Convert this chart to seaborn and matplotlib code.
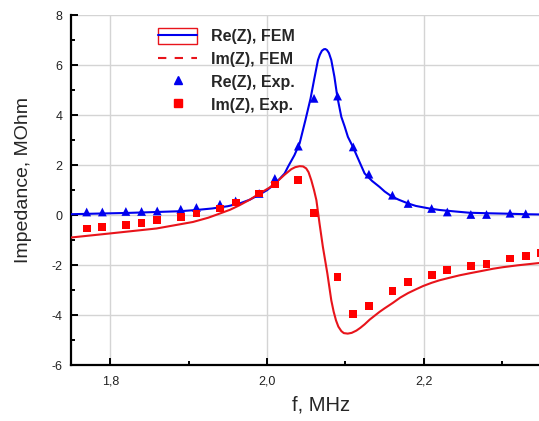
import matplotlib
matplotlib.use("Agg")
import matplotlib.pyplot as plt
import seaborn as sns
from matplotlib.lines import Line2D
from matplotlib.patches import Patch
from matplotlib.legend_handler import HandlerTuple
from matplotlib.ticker import MultipleLocator, FuncFormatter

# ---- data ----
f_exp = [1.77, 1.79, 1.82, 1.84, 1.86, 1.89, 1.91, 1.94, 1.96, 1.99, 2.01, 2.04,
         2.06, 2.09, 2.11, 2.13, 2.16, 2.18, 2.21, 2.23, 2.26, 2.28, 2.31, 2.33, 2.35]
re_exp = [0.13, 0.13, 0.15, 0.15, 0.17, 0.24, 0.31, 0.44, 0.57, 0.87, 1.47, 2.76,
          4.67, 4.76, 2.73, 1.64, 0.80, 0.47, 0.27, 0.13, 0.03, 0.03, 0.08, 0.06]
im_exp = [-0.53, -0.47, -0.40, -0.31, -0.20, -0.07, 0.07, 0.27, 0.51, 0.87, 1.23, 1.40,
          0.10, -2.47, -3.93, -3.64, -3.04, -2.67, -2.40, -2.20, -2.04, -1.96, -1.73, -1.64, -1.50]

f_re_fem = [1.750, 1.790, 1.820, 1.860, 1.889, 1.910, 1.930, 1.950, 1.965, 1.978, 1.990,
            2.000, 2.008, 2.016, 2.0225, 2.0267, 2.035, 2.0416, 2.049, 2.0556, 2.060, 2.065,
            2.0675, 2.070, 2.0725, 2.0744, 2.0765, 2.079, 2.082, 2.086, 2.0897, 2.0948,
            2.099, 2.1032, 2.1096, 2.118, 2.1245, 2.134, 2.1436, 2.150, 2.1586, 2.168,
            2.180, 2.190, 2.207, 2.220, 2.240, 2.258, 2.280, 2.309, 2.330, 2.350]
re_fem = [0.04, 0.07, 0.09, 0.13, 0.16, 0.21, 0.27, 0.36, 0.47, 0.62, 0.82,
          1.00, 1.20, 1.45, 1.67, 1.93, 2.40, 2.87, 3.80, 4.67, 5.40, 6.20,
          6.42, 6.57, 6.63, 6.64, 6.60, 6.48, 6.20, 5.53, 4.73, 3.93,
          3.55, 3.13, 2.73, 2.13, 1.67, 1.37, 1.13, 0.95, 0.76, 0.62,
          0.47, 0.37, 0.27, 0.21, 0.15, 0.10, 0.08, 0.06, 0.04, 0.03]

f_im_fem = [1.750, 1.799, 1.859, 1.9055, 1.925, 1.940, 1.953, 1.965, 1.978, 1.9906, 2.003,
            2.012, 2.0225, 2.031, 2.036, 2.0416, 2.046, 2.050, 2.053, 2.0565, 2.060, 2.063,
            2.067, 2.0713, 2.077, 2.082, 2.085, 2.088, 2.091, 2.0948, 2.098, 2.103,
            2.108, 2.114, 2.119, 2.1245, 2.131, 2.1436, 2.150, 2.1606, 2.170, 2.180,
            2.190, 2.199, 2.210, 2.220, 2.230, 2.2457, 2.260, 2.270, 2.288, 2.300,
            2.320, 2.335, 2.350]
im_fem = [-0.89, -0.73, -0.53, -0.27, -0.10, 0.07, 0.22, 0.40, 0.62, 0.87, 1.10,
          1.32, 1.62, 1.84, 1.92, 1.96, 1.95, 1.87, 1.72, 1.40, 1.00, 0.60,
          -0.33, -1.27, -2.33, -3.40, -3.85, -4.20, -4.45, -4.63, -4.71, -4.73,
          -4.70, -4.61, -4.50, -4.36, -4.17, -3.86, -3.72, -3.50, -3.29, -3.11,
          -2.96, -2.83, -2.70, -2.60, -2.52, -2.40, -2.31, -2.25, -2.14, -2.08,
          -2.00, -1.95, -1.90]

BLUE = "#0000ee"
RED = "#e8141b"
SQ_RED = "#ff0000"

sns.set_style("white")
plt.rcParams["font.family"] = ["Liberation Sans", "DejaVu Sans"]

fig = plt.figure(figsize=(5.39, 4.21), dpi=100)
ax = fig.add_axes([71 / 539, (421 - 365.4) / 421, 470.4 / 539, 350.4 / 421])

sns.lineplot(x=f_re_fem, y=re_fem, ax=ax, color=BLUE, linewidth=1.5, estimator=None, zorder=3)
sns.lineplot(x=f_im_fem, y=im_fem, ax=ax, color=RED, linewidth=1.5, estimator=None, zorder=3)
sns.scatterplot(x=f_exp[:len(re_exp)], y=re_exp, ax=ax, marker="^", s=40, color=BLUE,
                edgecolor="none", zorder=4)
sns.scatterplot(x=f_exp, y=im_exp, ax=ax, marker="s", s=32, color=SQ_RED,
                edgecolor="none", zorder=4)

ax.set_xlim(1.75, 2.35)
ax.set_ylim(-6, 8)
ax.xaxis.set_major_locator(MultipleLocator(0.2))
ax.xaxis.set_minor_locator(MultipleLocator(0.1))
ax.yaxis.set_major_locator(MultipleLocator(2))
ax.yaxis.set_minor_locator(MultipleLocator(1))
ax.xaxis.set_major_formatter(FuncFormatter(lambda v, p: f"{v:.1f}".replace(".", ",")))
ax.yaxis.set_major_formatter(FuncFormatter(lambda v, p: f"{v:.0f}"))

ax.grid(True, which="major", color="#d4d4d4", linewidth=1.0)
ax.set_axisbelow(True)
for s in ["top", "right"]:
    ax.spines[s].set_visible(False)
for s in ["left", "bottom"]:
    ax.spines[s].set_linewidth(1.6)
    ax.spines[s].set_color("black")
ax.tick_params(which="both", direction="in", width=1.4, colors="black", labelsize=9,
               left=True, bottom=True)
ax.tick_params(which="major", length=5)
ax.tick_params(which="minor", length=3)
ax.tick_params(axis="x", pad=7, labelcolor="#222222")
ax.tick_params(axis="y", pad=6, labelcolor="#222222")

ax.set_xlabel("f, MHz", fontsize=14.5)
ax.set_ylabel("Impedance, MOhm", fontsize=14)
ax.xaxis.set_label_coords(0.531, -0.085)
ax.yaxis.set_label_coords(-0.083, 0.529)

h1 = (Patch(facecolor="none", edgecolor=RED, linewidth=1.0), Line2D([], [], color=BLUE, lw=1.5))
h2 = Line2D([], [], color=RED, lw=1.5, linestyle=(0, (4, 4)))
h3 = Line2D([], [], color=BLUE, marker="^", linestyle="none", markersize=6.3)
h4 = Line2D([], [], color=SQ_RED, marker="s", linestyle="none", markersize=5.6)
leg = fig.legend([h1, h2, h3, h4],
                 ["Re(Z), FEM", "Im(Z), FEM", "Re(Z), Exp.", "Im(Z), Exp."],
                 handler_map={tuple: HandlerTuple(ndivide=1, pad=0)},
                 loc="upper left", bbox_to_anchor=(155 / 539, 1 - 25 / 421),
                 frameon=False, prop={"weight": "bold", "size": 11.5},
                 handlelength=2.45, handleheight=1.1, handletextpad=0.87,
                 labelspacing=0.42, borderpad=0.2, borderaxespad=0)

fig.savefig("out.png", dpi=100)
